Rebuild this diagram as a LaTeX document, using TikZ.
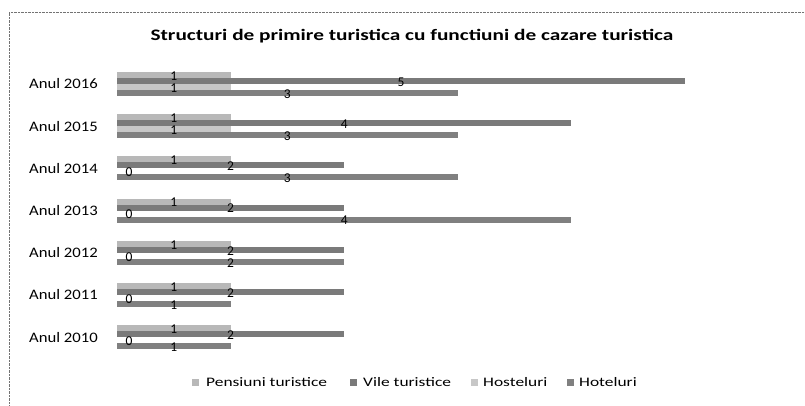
\documentclass[tikz,border=0pt]{standalone}
\usepackage{graphicx}
\usepackage{fontspec}
\setmainfont{Carlito}
\newcommand{\wide}[2]{\scalebox{#1}[1]{#2}}
\begin{document}
\begin{tikzpicture}[x=1pt,y=-1pt,
  yearlbl/.style={anchor=east,inner sep=0pt,font=\fontsize{14.5}{16}\selectfont},
  vallbl/.style={inner sep=0pt,font=\fontsize{13.5}{15}\selectfont},
  legtxt/.style={anchor=west,inner sep=0pt,font=\fontsize{13}{15}\selectfont},
  pens/.style={fill=black!28},
  vile/.style={fill=black!52},
  host/.style={fill=black!22},
  hotl/.style={fill=black!50}]
\useasboundingbox (0,0) rectangle (805,405);
\draw[black!55, densely dotted] (9,405) -- (9,12) -- (805,12);
\node[font=\bfseries\fontsize{16}{18}\selectfont,inner sep=0pt] (title) at (412,36) {\wide{1.33}{Structuri de primire turistica cu functiuni de cazare turistica}};
\foreach \yr/\a/\b/\cc/\d [count=\i from 0] in {2016/1/5/1/3,2015/1/4/1/3,2014/1/2/0/3,2013/1/2/0/4,2012/1/2/0/2,2011/1/2/0/1,2010/1/2/0/1}{
  \pgfmathsetmacro\c{84+\i*42.2}
  \node[yearlbl] (y\yr) at (98,\c) {\wide{1.15}{Anul \yr}};
  \fill[pens] (117,\c-12) rectangle ({117+113.6*\a},\c-6);
  \fill[vile] (117,\c-6) rectangle ({117+113.6*\b},\c);
  \ifnum\cc>0 \fill[host] (117,\c) rectangle ({117+113.6*\cc},\c+6); \fi
  \fill[hotl] (117,\c+6) rectangle ({117+113.6*\d},\c+12);
  \pgfmathsetmacro\xa{max(129,117+56.8*\a)}
  \pgfmathsetmacro\xb{max(129,117+56.8*\b)}
  \pgfmathsetmacro\xc{max(129,117+56.8*\cc)}
  \pgfmathsetmacro\xd{max(129,117+56.8*\d)}
  \node[vallbl] (la\yr) at (\xa,\c-8) {\a};
  \node[vallbl] (lb\yr) at (\xb,\c-2) {\b};
  \node[vallbl] (lc\yr) at (\xc,\c+4) {\cc};
  \node[vallbl] (ld\yr) at (\xd,\c+10) {\d};
}
\fill[pens] (192,379) rectangle (199,386);
\node[legtxt] (lg1) at (206,382) {\wide{1.34}{Pensiuni turistice}};
\fill[vile] (350,379) rectangle (357,386);
\node[legtxt] (lg2) at (363,382) {\wide{1.34}{Vile turistice}};
\fill[host] (471,379) rectangle (478,386);
\node[legtxt] (lg3) at (483,382) {\wide{1.34}{Hosteluri}};
\fill[hotl] (567,379) rectangle (574,386);
\node[legtxt] (lg4) at (579,382) {\wide{1.34}{Hoteluri}};
\end{tikzpicture}
\end{document}
